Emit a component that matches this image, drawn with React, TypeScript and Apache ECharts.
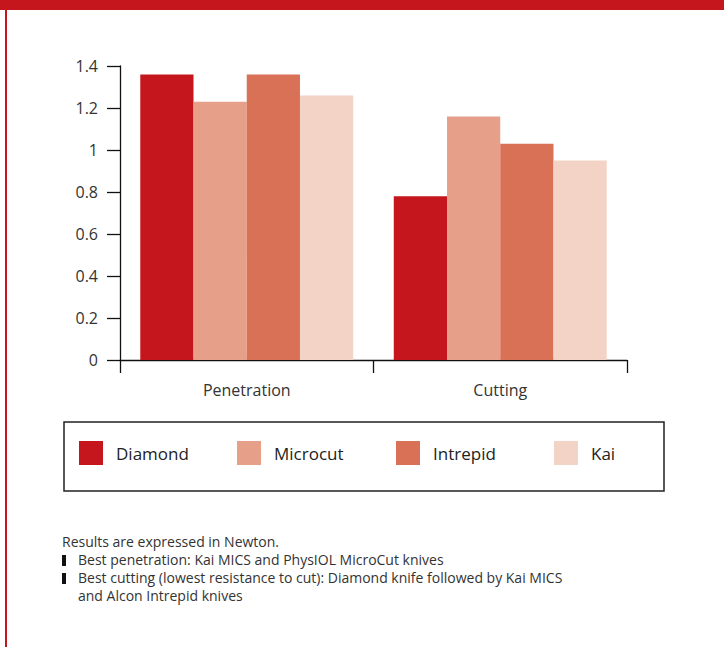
import React, { useEffect, useRef } from "react";
import * as echarts from "echarts";

const categories = ["Penetration", "Cutting"];
const seriesNames = ["Diamond", "Microcut", "Intrepid", "Kai"];
const diamond = [1.36, 0.78];
const microcut = [1.23, 1.16];
const intrepid = [1.36, 1.03];
const kai = [1.26, 0.95];
const colors = ["#C5161D", "#E6A08A", "#D97157", "#F3D3C5"];
const legendLefts = [79, 237, 396, 554];
const notes = [
  "Results are expressed in Newton.",
  "Best penetration: Kai MICS and PhysIOL MicroCut knives",
  "Best cutting (lowest resistance to cut): Diamond knife followed by Kai MICS",
  "and Alcon Intrepid knives",
];

const FONT = "Open Sans";

export default function App() {
  const ref = useRef<HTMLDivElement>(null);
  useEffect(() => {
    const chart = echarts.init(ref.current!, null, { renderer: "svg" });
    const values = [diamond, microcut, intrepid, kai];
    chart.setOption({
      animation: false,
      textStyle: { fontFamily: FONT },
      grid: { left: 120, right: 97, top: 66, bottom: 287 },
      legend: seriesNames.map((name, i) => ({
        left: legendLefts[i],
        top: 441,
        padding: 0,
        itemWidth: 24,
        itemHeight: 24,
        icon: "rect",
        data: [name],
        textStyle: {
          fontFamily: FONT,
          fontSize: 17,
          color: "#222",
          padding: [0, 0, 0, 8],
        },
      })),
      xAxis: {
        type: "category",
        data: categories,
        axisLine: { lineStyle: { color: "#111", width: 1.3 } },
        axisTick: { show: true, length: 13, interval: 0, lineStyle: { color: "#111", width: 1.3 } },
        axisLabel: { fontSize: 16, color: "#333", margin: 22, fontFamily: FONT },
      },
      yAxis: {
        type: "value",
        min: 0,
        max: 1.4,
        interval: 0.2,
        axisLine: { show: true, lineStyle: { color: "#111", width: 1.3 } },
        axisTick: { show: true, length: 13, lineStyle: { color: "#111", width: 1.3 } },
        splitLine: { show: false },
        axisLabel: { fontSize: 16, color: "#333", margin: 22, fontFamily: FONT },
      },
      series: seriesNames.map((name, i) => ({
        name,
        type: "bar",
        data: values[i],
        itemStyle: { color: colors[i] },
        barGap: "0%",
        barCategoryGap: "16%",
      })),
      graphic: [
        { type: "rect", shape: { x: 0, y: 0, width: 724, height: 10 }, style: { fill: "#C5161D" } },
        { type: "rect", shape: { x: 5, y: 10, width: 2, height: 637 }, style: { fill: "#C5161D" } },
        {
          type: "rect",
          shape: { x: 64, y: 422, width: 600, height: 69 },
          style: { fill: "none", stroke: "#222", lineWidth: 1.5 },
        },
        { type: "text", x: 62, y: 534, style: { text: notes[0], font: `14px "${FONT}"`, fill: "#333" } },
        { type: "rect", shape: { x: 62, y: 555, width: 4, height: 11 }, style: { fill: "#111" } },
        { type: "text", x: 78, y: 552, style: { text: notes[1], font: `14px "${FONT}"`, fill: "#333" } },
        { type: "rect", shape: { x: 62, y: 573, width: 4, height: 11 }, style: { fill: "#111" } },
        { type: "text", x: 78, y: 570, style: { text: notes[2], font: `14px "${FONT}"`, fill: "#333" } },
        { type: "text", x: 78, y: 588, style: { text: notes[3], font: `14px "${FONT}"`, fill: "#333" } },
      ],
    });
    return () => chart.dispose();
  }, []);
  return (
    <div
      ref={ref}
      style={{ position: "fixed", left: 0, top: 0, width: 724, height: 647, background: "#fff" }}
    />
  );
}
